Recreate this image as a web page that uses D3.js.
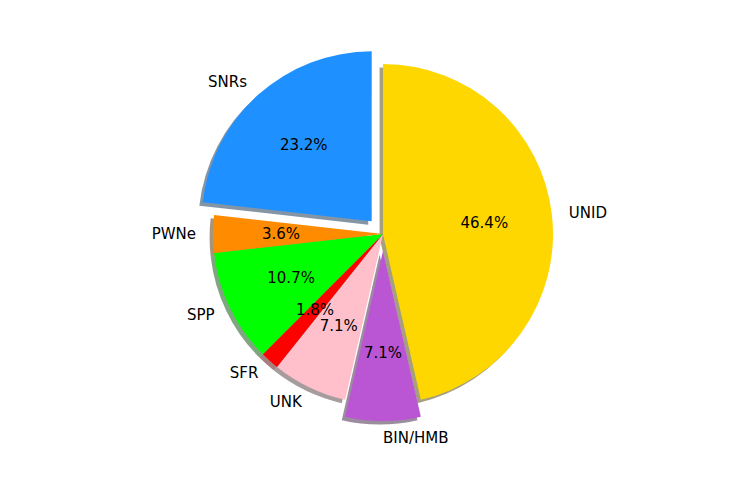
<!DOCTYPE html>
<html><head><meta charset="utf-8">
<script src="https://cdn.jsdelivr.net/npm/d3@7"></script>
<style>body{margin:0;background:#fff}svg{display:block}</style>
</head><body>
<script>
const categories = ["UNID", "BIN/HMB", "UNK", "SFR", "SPP", "PWNe", "SNRs"];
const counts = [26, 4, 4, 1, 6, 2, 13];
const colors = ["#FFD700", "#BA55D3", "#FFC0CB", "#FF0000", "#00FF00", "#FF8C00", "#1E90FF"];
const explode = [0, 0.1, 0, 0, 0, 0, 0.1];

const W = 741, H = 486, cx = 383, cy = 234, R = 170;
const svg = d3.select("body").append("svg").attr("width", W).attr("height", H);
const g = svg.append("g").attr("transform", `translate(${cx},${cy})`);

const total = d3.sum(counts);
const pie = d3.pie().sort(null).value(d => d.v);
const arcs = pie(categories.map((c, i) => ({c, v: counts[i], col: colors[i], ex: explode[i]})));
const arc = d3.arc().innerRadius(0).outerRadius(R);

function offset(a, r) {
  const m = (a.startAngle + a.endAngle) / 2;
  return [Math.sin(m) * r, -Math.cos(m) * r];
}

const sh = 0.02 * R;
// shadows
g.selectAll("path.shadow").data(arcs).enter().append("path")
  .attr("class", "shadow")
  .attr("d", arc)
  .attr("transform", d => { const o = offset(d, d.data.ex * R); return `translate(${o[0] - sh},${o[1] + sh})`; })
  .attr("fill", d => { const c = d3.rgb(d.data.col); return d3.rgb(c.r * 0.3, c.g * 0.3, c.b * 0.3); })
  .attr("fill-opacity", 0.5);

// wedges
g.selectAll("path.wedge").data(arcs).enter().append("path")
  .attr("class", "wedge")
  .attr("d", arc)
  .attr("transform", d => { const o = offset(d, d.data.ex * R); return `translate(${o[0]},${o[1]})`; })
  .attr("fill", d => d.data.col);

const font = "DejaVu Sans, sans-serif";
// labels
g.selectAll("text.lab").data(arcs).enter().append("text")
  .attr("class", "lab")
  .attr("x", d => { const e = offset(d, d.data.ex * R), o = offset(d, 1.1 * R); return e[0] + o[0]; })
  .attr("y", d => { const e = offset(d, d.data.ex * R), o = offset(d, 1.1 * R); return e[1] + o[1]; })
  .attr("text-anchor", d => offset(d, 1)[0] > -1e-9 ? "start" : "end")
  .attr("dominant-baseline", "central")
  .style("font-family", font).style("font-size", "15px").attr("fill", "#000")
  .text(d => d.data.c);

// percentages
g.selectAll("text.pct").data(arcs).enter().append("text")
  .attr("class", "pct")
  .attr("x", d => { const e = offset(d, d.data.ex * R), o = offset(d, 0.6 * R); return e[0] + o[0]; })
  .attr("y", d => { const e = offset(d, d.data.ex * R), o = offset(d, 0.6 * R); return e[1] + o[1]; })
  .attr("text-anchor", "middle")
  .attr("dominant-baseline", "central")
  .style("font-family", font).style("font-size", "15px").attr("fill", "#000")
  .text(d => (d.data.v / total * 100).toFixed(1) + "%");
</script>
</body></html>
